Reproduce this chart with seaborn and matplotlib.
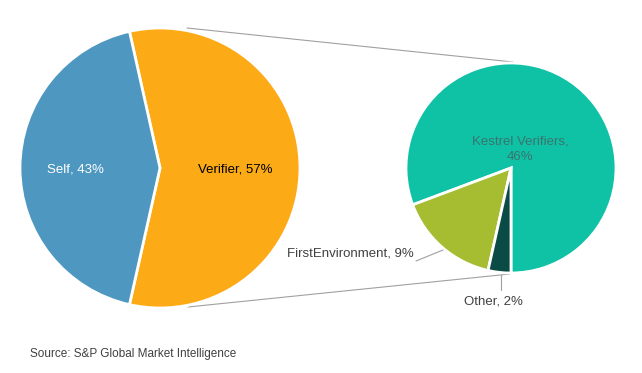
import matplotlib
matplotlib.use("Agg")
import matplotlib.pyplot as plt
import seaborn as sns

sns.set_theme(style="white")
plt.rcParams['font.family'] = ['Liberation Sans', 'DejaVu Sans']

# Data
main_labels = ["Verifier", "Self"]
main_values = [57, 43]
main_colors = ["#fcab17", "#4d97c0"]

sub_labels = ["Kestrel Verifiers", "FirstEnvironment", "Other"]
sub_values = [46, 9, 2]
sub_colors = ["#0fc2a6", "#a6bd32", "#0b4b45"]

source = "Source: S&P Global Market Intelligence"

W, H = 642, 373
fig = plt.figure(figsize=(W / 100, H / 100), dpi=100)
ax = fig.add_axes([0, 0, 1, 1])
ax.set_xlim(0, W)
ax.set_ylim(0, H)
ax.set_aspect('equal')
ax.axis('off')

def Y(y):
    return H - y

# Left (main) pie
c1 = (160, Y(168)); r1 = 140
start1 = -main_values[0] / sum(main_values) * 360 / 2
ax.pie(main_values, colors=main_colors, startangle=start1, counterclock=True,
       center=c1, radius=r1, frame=True,
       wedgeprops=dict(edgecolor="white", linewidth=2))

# Right (sub) pie
c2 = (511, Y(168)); r2 = 105
ax.pie(sub_values, colors=sub_colors, startangle=-90, counterclock=True,
       center=c2, radius=r2, frame=True,
       wedgeprops=dict(edgecolor="white", linewidth=2))

ax.set_xlim(0, W)
ax.set_ylim(0, H)
ax.axis('off')

# Connector lines
ax.plot([187, 513], [Y(28), Y(62)], color="#a0a0a0", lw=0.8, zorder=0)
ax.plot([188, 510], [Y(307), Y(274)], color="#a0a0a0", lw=0.8, zorder=0)

# Labels
ax.text(75, Y(170), f"{main_labels[1]}, {main_values[1]}%", color="white",
        fontsize=9.5, ha="center", va="center")
ax.text(235, Y(170), f"{main_labels[0]}, {main_values[0]}%", color="black",
        fontsize=9.5, ha="center", va="center")
ax.text(520, Y(145), f"{sub_labels[0]},", color="#3a746e",
        fontsize=9.5, ha="center", va="baseline")
ax.text(520, Y(159.5), f"{sub_values[0]}%", color="#3a746e",
        fontsize=9.5, ha="center", va="baseline")
ax.text(414, Y(253), f"{sub_labels[1]}, {sub_values[1]}%", color="#404040",
        fontsize=9.5, ha="right", va="center")
ax.plot([416, 443], [Y(261), Y(250)], color="#a0a0a0", lw=0.8)
ax.text(493, Y(301), f"{sub_labels[2]}, {sub_values[2]}%", color="#404040",
        fontsize=9.5, ha="center", va="center")
ax.plot([501, 501], [Y(275), Y(290)], color="#a0a0a0", lw=0.8)

ax.text(30, Y(354), source, color="#404040", fontsize=8.5, ha="left", va="center")

fig.savefig("out.png", dpi=100)
